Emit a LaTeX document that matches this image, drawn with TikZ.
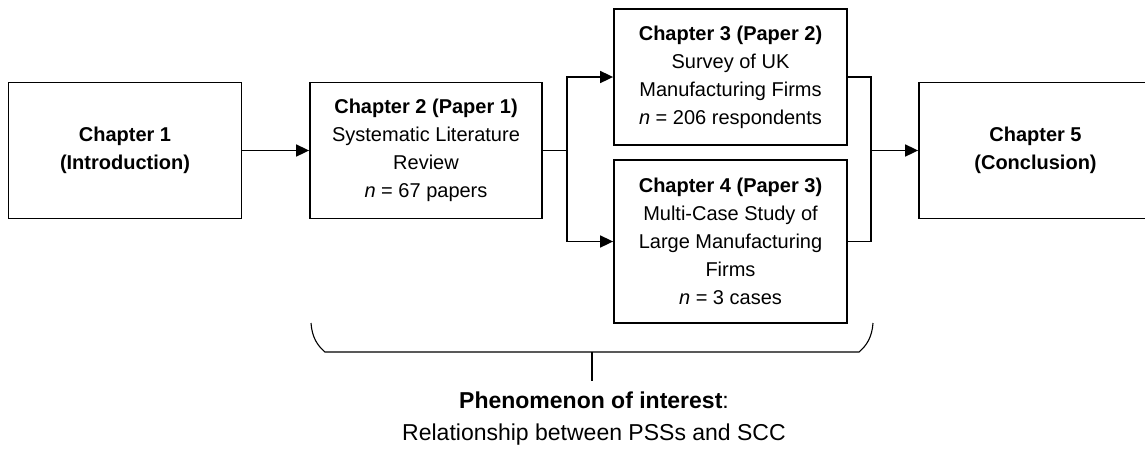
\documentclass[tikz,border=0pt]{standalone}
\usepackage{fontspec}
\setmainfont{Liberation Sans}
\usetikzlibrary{arrows.meta}

\tikzset{
  chapbox/.style={draw, line width=1.8pt, minimum width=233pt,
    minimum height=136pt, inner sep=0pt, align=center,
    font=\fontsize{20}{28}\selectfont},
  flow/.style={line width=1.7pt},
}

\begin{document}
\begin{tikzpicture}[x=1pt, y=-1pt, >={Triangle[length=13pt, width=12pt]}]

  %% ---- Canvas ----
  \useasboundingbox (0,0) rectangle (1145,448);
  \clip (0,0) rectangle (1145,448);

  %% ---- Parameters ----
  \pgfmathsetmacro{\midy}{150.5}
  \pgfmathsetmacro{\splitx}{567}
  \pgfmathsetmacro{\mergex}{871}

  %% ---- Chapter boxes ----
  \node[chapbox] (ch1) at (125,\midy)
    {\textbf{Chapter 1}\\\textbf{(Introduction)}};
  \node[chapbox, minimum width=232pt] (ch2) at (426,\midy)
    {\textbf{Chapter 2 (Paper 1)}\\Systematic Literature\\Review\\\textit{n} = 67 papers};
  \node[chapbox] (ch3) at (730.5,77)
    {\textbf{Chapter 3 (Paper 2)}\\Survey of UK\\Manufacturing Firms\\\textit{n} = 206 respondents};
  \node[chapbox, minimum height=163pt] (ch4) at (730.5,241.5)
    {\textbf{Chapter 4 (Paper 3)}\\Multi-Case Study of\\Large Manufacturing\\Firms\\\textit{n} = 3 cases};
  \node[chapbox] (ch5) at (1035.5,\midy)
    {\textbf{Chapter 5}\\\textbf{(Conclusion)}};

  %% ---- Split and merge points ----
  \coordinate (split) at (\splitx,\midy);
  \coordinate (merge) at (\mergex,\midy);

  %% ---- Flow ----
  \draw[->, flow] (ch1) -- (ch2);
  \draw[flow] (ch2.east) -- (split);
  \draw[->, flow] (split) |- (ch3.west);
  \draw[->, flow] (split) |- (ch4.west);
  \draw[flow] (ch3.east) -| (merge);
  \draw[flow] (ch4.east) -| (merge);
  \draw[->, flow] (merge) -- (ch5.west);

  %% ---- Brace under chapters 2--4 ----
  \draw[line width=1.1pt]
    (311,323) .. controls (312,338) and (318,346) .. (325,352)
    -- (859,352) .. controls (866,346) and (872,338) .. (873,323);
  \coordinate (bracetip) at (592,352);

  %% ---- Phenomenon of interest ----
  \node[anchor=north, inner sep=0pt, align=center,
        font=\fontsize{23}{32}\selectfont] (phen) at (594,392)
    {\textbf{Phenomenon of interest}:\\Relationship between PSSs and SCC};
  \draw[line width=1.2pt] (bracetip) -- ([yshift=11pt]bracetip |- phen.north);

\end{tikzpicture}
\end{document}
